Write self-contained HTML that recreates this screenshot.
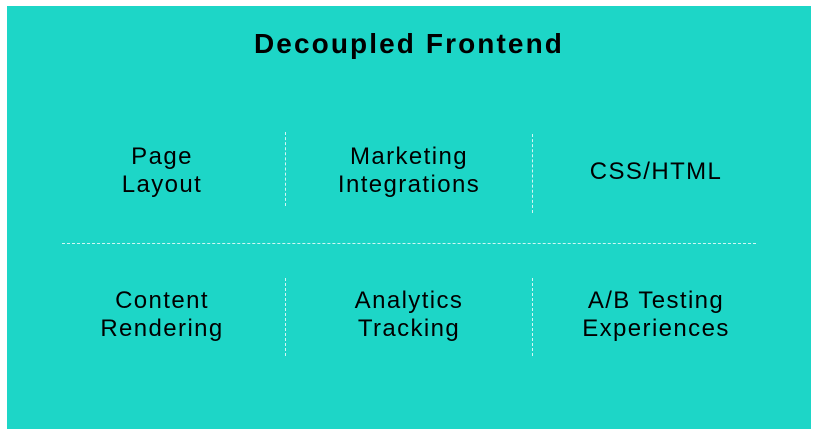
<!DOCTYPE html>
<html><head><meta charset="utf-8"><style>
html,body{margin:0;padding:0;width:822px;height:442px;background:#fff;overflow:hidden}
.box{position:absolute;left:7px;top:6px;width:804px;height:423px;background:#1dd6c7}
.t{position:absolute;font-family:"Liberation Sans",sans-serif;color:#000;text-align:center;font-size:24px;letter-spacing:1.4px;line-height:28px;width:240px}
.title{font-weight:bold;font-size:28px;letter-spacing:2.1px;left:159px;width:500px;top:28px;line-height:32px}
.v{position:absolute;width:0;border-left:1px dashed rgba(255,255,255,0.8)}
.h{position:absolute;height:0;border-top:1px dashed rgba(255,255,255,0.8)}
</style></head><body>
<div class="box"></div>
<div class="t title">Decoupled Frontend</div>
<div class="t" style="left:42px;top:143px">Page<br>Layout</div>
<div class="t" style="left:289px;top:143px">Marketing<br>Integrations</div>
<div class="t" style="left:536px;top:158px">CSS/HTML</div>
<div class="t" style="left:42px;top:287px">Content<br>Rendering</div>
<div class="t" style="left:289px;top:287px">Analytics<br>Tracking</div>
<div class="t" style="left:536px;top:287px">A/B Testing<br>Experiences</div>
<div class="v" style="left:285px;top:132px;height:74px"></div>
<div class="v" style="left:532px;top:134px;height:79px"></div>
<div class="v" style="left:285px;top:278px;height:78px"></div>
<div class="v" style="left:532px;top:278px;height:78px"></div>
<div class="h" style="left:62px;top:243px;width:694px"></div>
</body></html>
